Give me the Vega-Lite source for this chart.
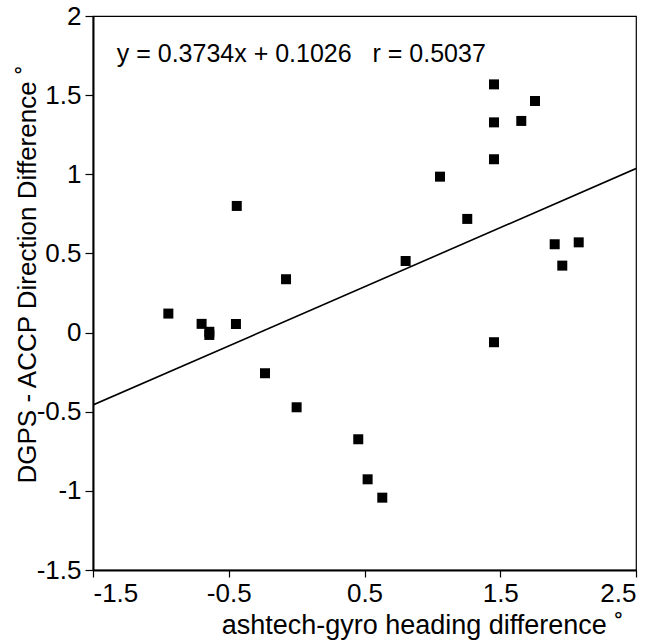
{
  "$schema": "https://vega.github.io/schema/vega-lite/v6.json",
  "width": 543,
  "height": 554,
  "autosize": {"type": "none"},
  "padding": {"left": 93, "top": 16, "right": 20, "bottom": 72},
  "background": "white",
  "config": {
    "view": {"stroke": "#000", "strokeWidth": 1.2},
    "font": "Liberation Sans",
    "axis": {"grid": false, "domainColor": "#000", "domainWidth": 2, "tickColor": "#000", "tickWidth": 1.2, "labelColor": "#000", "titleColor": "#000", "labelFont": "Liberation Sans", "titleFont": "Liberation Sans", "labelFontSize": 26, "titleFontSize": 27, "titleFontWeight": "normal"}
  },
  "datasets": {
    "points": [
      {"x": -0.945, "y": 0.12},
      {"x": -0.70, "y": 0.055},
      {"x": -0.643, "y": 0.005},
      {"x": -0.643, "y": -0.015},
      {"x": -0.441, "y": 0.80},
      {"x": -0.447, "y": 0.054},
      {"x": -0.078, "y": 0.337},
      {"x": -0.233, "y": -0.257},
      {"x": 0.0, "y": -0.472},
      {"x": 1.454, "y": -0.061},
      {"x": 0.454, "y": -0.674},
      {"x": 0.523, "y": -0.927},
      {"x": 0.631, "y": -1.043},
      {"x": 1.454, "y": 1.568},
      {"x": 1.756, "y": 1.463},
      {"x": 1.454, "y": 1.328},
      {"x": 1.655, "y": 1.337},
      {"x": 1.454, "y": 1.095},
      {"x": 1.056, "y": 0.985},
      {"x": 1.257, "y": 0.718},
      {"x": 0.803, "y": 0.452},
      {"x": 1.901, "y": 0.558},
      {"x": 2.078, "y": 0.570},
      {"x": 1.957, "y": 0.423}
    ],
    "fit": [
      {"x": -1.5, "y": -0.4575},
      {"x": 2.5, "y": 1.0361}
    ],
    "note": [
      {"x": -1.325, "y": 1.709, "label": "y = 0.3734x + 0.1026\u00a0\u00a0\u00a0r = 0.5037"}
    ]
  },
  "layer": [
    {
      "data": {"name": "fit"},
      "mark": {"type": "line", "color": "#000", "strokeWidth": 1.6, "clip": true},
      "encoding": {
        "x": {"field": "x", "type": "quantitative", "scale": {"domain": [-1.5, 2.5], "nice": false, "zero": false},
          "axis": {"values": [-1.5, -0.5, 0.5, 1.5, 2.5], "labelExpr": "datum.value + ''", "tickSize": 7, "labelPadding": 3,
            "title": "ashtech-gyro heading difference ˚", "titleX": 329, "titleY": 63, "titleBaseline": "alphabetic", "titleAlign": "center"}},
        "y": {"field": "y", "type": "quantitative", "scale": {"domain": [-1.5, 2], "nice": false, "zero": false},
          "axis": {"values": [-1.5, -1, -0.5, 0, 0.5, 1, 1.5, 2], "labelExpr": "datum.value + ''", "tickSize": 8, "labelPadding": 4,
            "title": "DGPS - ACCP Direction Difference ˚", "titleFontSize": 26, "titleAngle": -90, "titleX": -58, "titleY": 258, "titleBaseline": "alphabetic", "titleAlign": "center"}}
      }
    },
    {
      "data": {"name": "points"},
      "mark": {"type": "point", "shape": "square", "filled": true, "color": "#000", "size": 100, "opacity": 1},
      "encoding": {
        "x": {"field": "x", "type": "quantitative"},
        "y": {"field": "y", "type": "quantitative"}
      }
    },
    {
      "data": {"name": "note"},
      "mark": {"type": "text", "align": "left", "baseline": "alphabetic", "fontSize": 25, "color": "#000", "font": "Liberation Sans"},
      "encoding": {
        "x": {"field": "x", "type": "quantitative"},
        "y": {"field": "y", "type": "quantitative"},
        "text": {"field": "label"}
      }
    }
  ]
}
